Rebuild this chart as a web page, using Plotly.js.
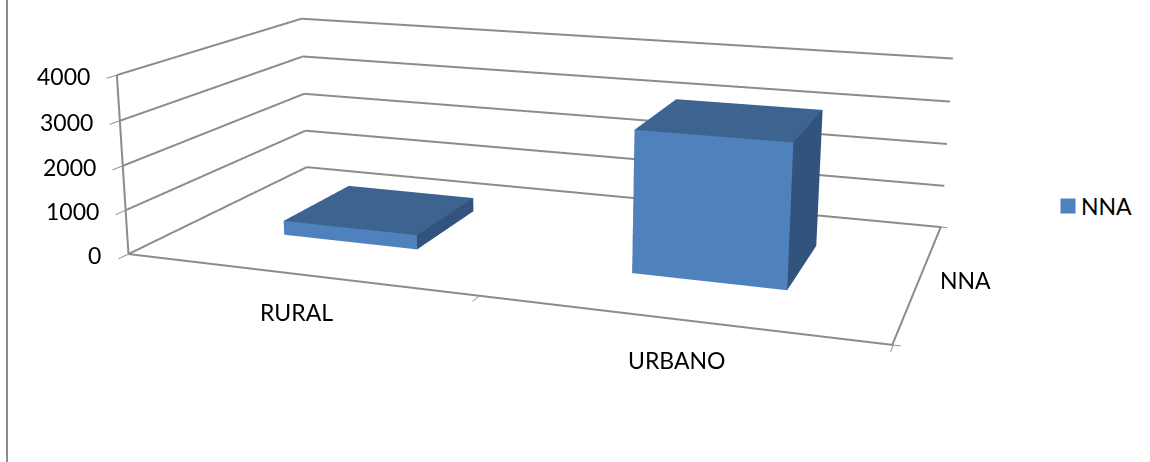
<!DOCTYPE html>
<html><head><meta charset="utf-8">
<script src="https://cdn.plot.ly/plotly-3.0.1.min.js"></script>
<style>html,body{margin:0;background:#fff;overflow:hidden;width:1150px;height:462px}#c{position:absolute;left:-50px;top:-491px;width:1200px;height:1322px}</style></head>
<body><div id="c"></div>
<script>
const categories = ["RURAL","URBANO"];
const seriesName = "NNA";
const values = [330, 3120];
const zTicks = [0,1000,2000,3000,4000];
const xRange = [-0.5,1.5], yRange = [-0.5,0.5], zRange = [0,4000];
const barHalfWidth = 0.2, barHalfDepth = 0.2;
const faceColors = {front:"#4F81BD", top:"#3D6491", side:"#31537C"};
const lineColor = "#8c8c8c";
const W=1200,H=1322,offX=50,offY=491;
const font="Lato, sans-serif";
const fs=23;
const inset=0.002;

function box(i,v){
  const x0=i-barHalfWidth,x1=i+barHalfWidth,y0=-barHalfDepth,y1=barHalfDepth;
  const xs=[x0,x1,x1,x0,x0,x1,x1,x0], ys=[y0,y0,y1,y1,y0,y0,y1,y1], zs=[0,0,0,0,v,v,v,v];
  const I=[0,0, 4,4, 1,1, 3,3, 0,0, 0,0];
  const J=[1,5, 5,6, 2,6, 2,6, 3,7, 1,2];
  const K=[5,4, 6,7, 6,5, 6,7, 7,4, 2,3];
  const c=[faceColors.front,faceColors.front,faceColors.top,faceColors.top,faceColors.side,faceColors.side,faceColors.side,faceColors.side,faceColors.side,faceColors.side,faceColors.side,faceColors.side];
  return {type:"mesh3d",x:xs,y:ys,z:zs,i:I,j:J,k:K,facecolor:c,flatshading:true,name:seriesName,showlegend:false,hoverinfo:"skip",
    lighting:{ambient:1,diffuse:0,specular:0,fresnel:0,roughness:1}};
}
// frame: gridlines on the two back walls, floor edges, value axis edge
const fx=[],fy=[],fz=[];
function seg(a,b){fx.push(a[0],b[0],null);fy.push(a[1],b[1],null);fz.push(a[2],b[2],null);}
zTicks.forEach(t=>{
  seg([xRange[0],yRange[0],t],[xRange[0],yRange[1],t]);
  seg([xRange[0],yRange[1],t],[xRange[1],yRange[1],t]);
});
seg([xRange[0],yRange[0],zRange[0]],[xRange[1],yRange[0],zRange[0]]);
seg([xRange[1]-inset,yRange[0],zRange[0]+10],[xRange[1]-inset,yRange[1],zRange[0]+10]);
seg([xRange[0],yRange[0],zRange[0]],[xRange[0],yRange[0],zRange[1]]);
const frame={type:"scatter3d",mode:"lines",x:fx,y:fy,z:fz,line:{color:lineColor,width:4},showlegend:false,hoverinfo:"skip"};
const legendTrace={type:"scatter3d",mode:"markers",x:[null],y:[null],z:[null],name:seriesName,showlegend:true,marker:{symbol:"square",size:20,color:faceColors.front}};
const axisCommon={showbackground:false,showgrid:false,showline:false,zeroline:false,showspikes:false,
  tickcolor:lineColor,tickwidth:2,ticks:"outside",ticklen:10,tickangle:0,showticklabels:false,title:{text:""}};
const ann=(x,y,z,text,xs,ys,anchor)=>({x,y,z,text,showarrow:false,xshift:xs,yshift:ys,xanchor:anchor||"center",font:{family:font,size:fs,color:"#000"}});
Plotly.newPlot("c",[frame,box(0,values[0]),box(1,values[1]),legendTrace],{
  width:W,height:H,margin:{l:0,r:0,t:0,b:0},paper_bgcolor:"#fff",showlegend:true,
  legend:{x:(1048+offX)/W,y:1-(206+offY)/H,font:{family:font,size:fs,color:"#000"},itemsizing:"constant"},
  shapes:[{type:"line",xref:"paper",yref:"paper",x0:(7+offX)/W,x1:(7+offX)/W,y0:1-(0+offY)/H,y1:1-(462+offY)/H,line:{color:lineColor,width:2}}],
  scene:{domain:{x:[0,1],y:[0,1]},
    aspectmode:"manual",aspectratio:{x:2.0004,y:1,z:0.4816},
    camera:{eye:{x:1.3919,y:-3.9390,z:1.0211},center:{x:0.0089,y:-0.0081,z:-0.0402},up:{x:-0.0851,y:0.2317,z:0.9691},projection:{type:"perspective"}},
    xaxis:Object.assign({},axisCommon,{range:xRange,tickvals:[-0.5,0.5,1.5],ticklen:5}),
    yaxis:Object.assign({},axisCommon,{range:yRange,tickvals:[-0.5,0.5],ticklen:14}),
    zaxis:Object.assign({},axisCommon,{range:zRange,tickvals:zTicks}),
    annotations:[ann(0,-0.5,0,categories[0],0,-38),ann(1,-0.5,0,categories[1],0,-41),ann(1.5,0,0,seriesName,45,-1)]
      .concat(zTicks.map(t=>ann(-0.5,-0.5,t,String(t),-25,-1,"right")))
  }
},{displayModeBar:false}).then(()=>{
  const t=document.querySelector(".legend .legendtext");
  if(t){t.setAttribute("x",String(parseFloat(t.getAttribute("x"))-7));}
  const p=document.querySelector(".legend .legendpoints path");
  if(p){p.setAttribute("d","M7.5,7.5H-7.5V-7.5H7.5Z");p.style.strokeWidth="0";}
});
</script></body></html>
